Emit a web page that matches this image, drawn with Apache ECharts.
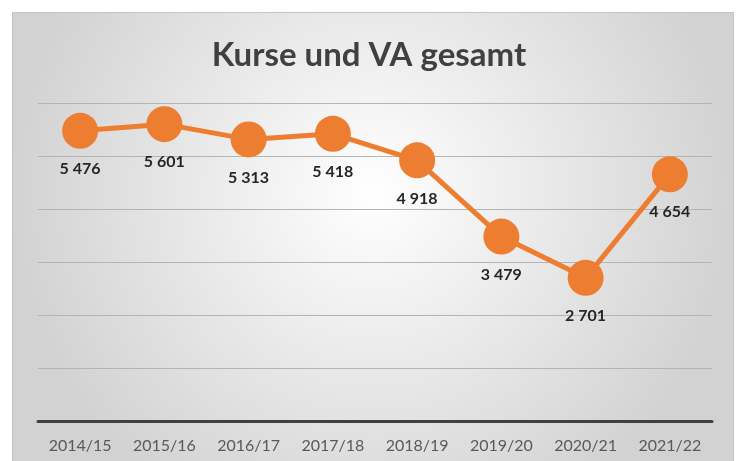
<!DOCTYPE html>
<html>
<head>
<meta charset="utf-8">
<script src="https://cdn.jsdelivr.net/npm/echarts@6/dist/echarts.min.js"></script>
<style>
  html, body { margin: 0; padding: 0; background: #fff; }
  #chart { width: 738px; height: 461px; }
</style>
</head>
<body>
<div id="chart"></div>
<script>
const categories = ['2014/15', '2015/16', '2016/17', '2017/18', '2018/19', '2019/20', '2020/21', '2021/22'];
const values = [5476, 5601, 5313, 5418, 4918, 3479, 2701, 4654];
const yTicks = [0, 1000, 2000, 3000, 4000, 5000, 6000];

const chart = echarts.init(document.getElementById('chart'));

// Excel-style number with space as thousands separator
const fmt = v => String(v).replace(/\B(?=(\d{3})+(?!\d))/g, ' ');

chart.setOption({
    animation: false,
    title: {
        text: 'Kurse und VA gesamt',
        left: 'center',
        top: 34,
        textStyle: { fontFamily: 'Lato', fontWeight: 'bold', fontSize: 33, color: '#404040' }
    },
    graphic: [{
        type: 'rect',
        z: -10,
        shape: { x: 12.5, y: 12.5, width: 721, height: 452 },
        style: {
            fill: new echarts.graphic.RadialGradient(0.5, 0.4, 0.8, [
                { offset: 0, color: '#ffffff' },
                { offset: 1, color: '#d2d2d2' }
            ]),
            stroke: '#c4c4c4',
            lineWidth: 1
        }
    }],
    grid: { left: 38, right: 26, top: 103, bottom: 40 },
    xAxis: {
        type: 'category',
        data: categories,
        axisLine: { lineStyle: { color: '#404040', width: 3 } },
        axisTick: { show: false },
        axisLabel: { fontFamily: 'Lato', fontSize: 16, color: '#595959', margin: 17 }
    },
    yAxis: {
        type: 'value',
        min: yTicks[0],
        max: yTicks[yTicks.length - 1],
        interval: 1000,
        axisLabel: { show: false },
        axisLine: { show: false },
        splitLine: { lineStyle: { color: '#b4b4b4', width: 1 } }
    },
    series: [{
        type: 'line',
        data: values,
        symbol: 'circle',
        symbolSize: 36,
        itemStyle: { color: '#ED7D31' },
        lineStyle: { color: '#ED7D31', width: 5 },
        label: {
            show: true,
            position: 'bottom',
            distance: 12,
            formatter: p => fmt(p.value),
            fontFamily: 'Lato',
            fontWeight: 'bold',
            fontSize: 16,
            color: '#262626'
        }
    }]
});
</script>
</body>
</html>
